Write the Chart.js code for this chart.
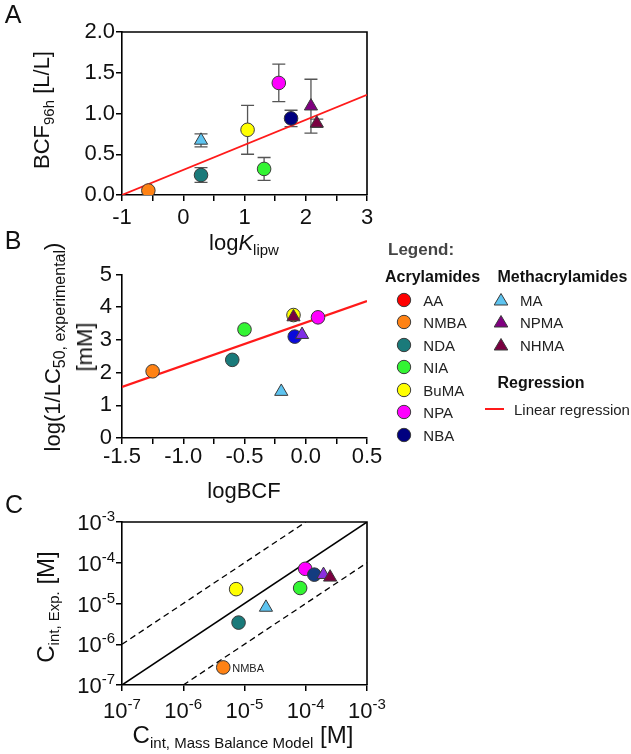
<!DOCTYPE html>
<html>
<head>
<meta charset="utf-8">
<script src="https://cdn.jsdelivr.net/npm/chart.js@4.4.1/dist/chart.umd.min.js"></script>
<style>
html,body{margin:0;padding:0;background:#fff;}
body{width:631px;height:754px;position:relative;overflow:hidden;font-family:'Liberation Sans',Arial,Helvetica,sans-serif;color:#111;}
canvas{position:absolute;left:0;}
.t{position:absolute;white-space:nowrap;line-height:normal;transform:translate(-50%,-50%);}
.r{transform:translate(-50%,-50%) rotate(-90deg);}
.sub{font-size:15px;position:relative;top:5px;}
.lg{position:absolute;white-space:nowrap;line-height:normal;transform:translateY(-50%);}
svg.mk{position:absolute;overflow:visible;}
</style>
</head>
<body>
<canvas id="cA" width="400" height="240" style="top:0px"></canvas>
<canvas id="cB" width="400" height="220" style="top:250px"></canvas>
<canvas id="cC" width="400" height="254" style="top:500px"></canvas>

<div class="t" style="left:13px;top:14px;font-size:25px">A</div>
<div class="t" style="left:13px;top:240px;font-size:25px">B</div>
<div class="t" style="left:14px;top:504px;font-size:25px">C</div>

<div class="t r" style="left:42px;top:110px;font-size:22px">BCF<span class="sub">96h</span> [L/L]</div>
<div class="t" style="left:244px;top:243px;font-size:22px">log<i>K</i><span class="sub">lipw</span></div>

<div class="t r" style="left:53px;top:347px;font-size:22px">log(1/LC<span class="sub" style="font-size:16px">50, experimental</span>)</div>
<div class="t r" style="left:85px;top:347px;font-size:22px">[mM]</div>
<div class="t" style="left:244px;top:491px;font-size:22px">logBCF</div>

<div class="t r" style="left:46px;top:607px;font-size:24px">C<span class="sub">int, Exp.</span> [M]</div>
<div class="t" style="left:243px;top:735px;font-size:24px">C<span class="sub">int, Mass Balance Model</span> [M]</div>

<div id="legend"></div>

<script>
// ---------------- DATA ----------------
// Panel A: BCF (96 h) vs log K_lipw
const compoundsA = ['NMBA', 'NDA', 'MA', 'BuMA', 'NIA', 'NPA', 'NBA', 'NPMA', 'NHMA'];
const logKlipw   = [-0.57, 0.29, 0.29, 1.05, 1.32, 1.56, 1.76, 2.085, 2.18];
const bcf96h     = [0.055, 0.245, 0.67, 0.80, 0.32, 1.375, 0.94, 1.09, 0.88];
const bcf96hErr  = [0, 0.09, 0.08, 0.30, 0.14, 0.23, 0.10, 0.33, 0.05];
const regA_x = [-1, 3];
const regA_y = [0.0, 1.23];

// Panel B: log(1/LC50) vs logBCF
const compoundsB = ['NMBA', 'NDA', 'NIA', 'MA', 'BuMA', 'NHMA', 'NBA', 'NPMA', 'NPA'];
const logBCF     = [-1.25, -0.60, -0.50, -0.20, -0.10, -0.10, -0.09, -0.03, 0.10];
const logInvLC50 = [2.04, 2.39, 3.32, 1.42, 3.76, 3.70, 3.10, 3.16, 3.69];
const regB_x = [-1.5, 0.5];
const regB_y = [1.56, 4.19];

// Panel C: experimental vs mass-balance internal concentrations
const compoundsC = ['NMBA', 'BuMA', 'NDA', 'MA', 'NIA', 'NPA', 'NBA', 'NPMA', 'NHMA'];
const cintModel  = [4.5e-6, 7.3e-6, 8.0e-6, 2.24e-5, 8.1e-5, 9.8e-5, 1.38e-4, 1.95e-4, 2.5e-4];
const cintExp    = [2.7e-7, 2.25e-5, 3.4e-6, 8.0e-6, 2.4e-5, 7.1e-5, 5.1e-5, 5.1e-5, 4.4e-5];
const unity_x = [1e-7, 1e-3];
const unity_y = [1e-7, 1e-3];
const tenfoldUp_x = [1e-7, 1e-4];
const tenfoldUp_y = [1e-6, 1e-3];
const tenfoldDown_x = [1e-6, 1e-3];
const tenfoldDown_y = [1e-7, 1e-4];
const decadeTicks = [1e-7, 1e-6, 1e-5, 1e-4, 1e-3];
const decadeExps  = ['-7', '-6', '-5', '-4', '-3'];

// Legend entries
const legendAcrylamides = ['AA', 'NMBA', 'NDA', 'NIA', 'BuMA', 'NPA', 'NBA'];
const legendMethacrylamides = ['MA', 'NPMA', 'NHMA'];

// ---------------- STYLE ----------------
const methacryl = new Set(legendMethacrylamides);
const colorsBase = { AA:'#ff0000', NMBA:'#ff8214', NDA:'#1a7a7a', NIA:'#33f533', BuMA:'#ffff00',
  NPA:'#ff00ff', NBA:'#000080', MA:'#5ec4f0', NPMA:'#800080', NHMA:'#7a0040' };
const colorsB = Object.assign({}, colorsBase, { NBA:'#0a0adc', NPMA:'#7f2fe6' });
const colorsC = Object.assign({}, colorsBase, { NBA:'#143c80', NPMA:'#8c2ee0' });

const F = "'Liberation Sans', Arial, Helvetica, sans-serif";
const TICK = 22;
Chart.defaults.font.family = F;
Chart.defaults.color = '#111';
Chart.defaults.animation = false;

const tickGrid = { display:true, drawOnChartArea:false, drawTicks:true, tickLength:6, color:'#000', lineWidth:1.5 };
const axisBorder = { display:true, color:'#000', width:1.6 };

function pointDatasets(names, xs, ys, colors) {
  return names.map((n, i) => ({
    label: n,
    data: [{ x: xs[i], y: ys[i] }],
    backgroundColor: colors[n],
    borderColor: '#3a3a3a',
    borderWidth: 1,
    pointStyle: methacryl.has(n) ? 'triangle' : 'circle',
    pointRadius: methacryl.has(n) ? 7.6 : 6.8,
    pointHoverRadius: methacryl.has(n) ? 7.6 : 6.8,
    order: names.length - i
  }));
}
function lineDataset(xs, ys, color, width, dash) {
  return { label: '', data: xs.map((x, i) => ({ x, y: ys[i] })), showLine: true,
    borderColor: color, borderWidth: width, borderDash: dash || [], pointRadius: 0,
    pointHoverRadius: 0, fill: false, order: 100 };
}
const framePlugin = { id: 'frame', beforeDatasetsDraw(chart) {
  const a = chart.chartArea, ctx = chart.ctx;
  ctx.save(); ctx.strokeStyle = '#000'; ctx.lineWidth = 1.6;
  ctx.beginPath(); ctx.moveTo(a.left, a.top); ctx.lineTo(a.right, a.top); ctx.lineTo(a.right, a.bottom); ctx.stroke();
  ctx.restore();
} };
const errPlugin = { id: 'errbars', beforeDatasetsDraw(chart) {
  const ctx = chart.ctx, x = chart.scales.x, y = chart.scales.y;
  ctx.save(); ctx.strokeStyle = '#555'; ctx.lineWidth = 1.3;
  logKlipw.forEach((v, i) => {
    const e = bcf96hErr[i]; if (!e) return;
    const px = x.getPixelForValue(v), p1 = y.getPixelForValue(bcf96h[i] + e), p2 = y.getPixelForValue(bcf96h[i] - e);
    ctx.beginPath();
    ctx.moveTo(px, p1); ctx.lineTo(px, p2);
    ctx.moveTo(px - 6.5, p1); ctx.lineTo(px + 6.5, p1);
    ctx.moveTo(px - 6.5, p2); ctx.lineTo(px + 6.5, p2);
    ctx.stroke();
  });
  ctx.restore();
} };
const baseOpts = { responsive: false, events: [], plugins: { legend: { display: false }, tooltip: { enabled: false } } };

// ---------------- CHART A ----------------
new Chart(document.getElementById('cA'), {
  type: 'scatter',
  data: { datasets: [lineDataset(regA_x, regA_y, '#ff1a1a', 1.7), ...pointDatasets(compoundsA, logKlipw, bcf96h, colorsBase)] },
  options: Object.assign({}, baseOpts, {
    layout: { padding: { top: 32, right: 33, left: 0, bottom: 0 } },
    scales: {
      x: { type: 'linear', min: -1, max: 3,
        ticks: { stepSize: 0.5, autoSkip: false, maxRotation: 0, padding: 4, font: { size: TICK }, color: '#111',
          callback: v => Number.isInteger(v) ? String(v) : '' },
        grid: tickGrid, border: axisBorder, afterFit: s => { s.height = 45; } },
      y: { type: 'linear', min: 0, max: 2,
        ticks: { stepSize: 0.5, padding: 1, font: { size: TICK }, color: '#111', callback: v => v.toFixed(1) },
        grid: tickGrid, border: axisBorder, afterFit: s => { s.width = 122; } }
    }
  }),
  plugins: [framePlugin, errPlugin]
});

// ---------------- CHART B ----------------
new Chart(document.getElementById('cB'), {
  type: 'scatter',
  data: { datasets: [lineDataset(regB_x, regB_y, '#ff1a1a', 2.3), ...pointDatasets(compoundsB, logBCF, logInvLC50, colorsB)] },
  options: Object.assign({}, baseOpts, {
    layout: { padding: { top: 24.5, right: 33, left: 0, bottom: 0 } },
    scales: {
      x: { type: 'linear', min: -1.5, max: 0.5,
        ticks: { stepSize: 0.25, autoSkip: false, maxRotation: 0, padding: 0, font: { size: TICK }, color: '#111',
          callback: v => Math.abs(v * 2 - Math.round(v * 2)) < 1e-9 ? v.toFixed(1) : '' },
        grid: tickGrid, border: axisBorder, afterFit: s => { s.height = 32; } },
      y: { type: 'linear', min: 0, max: 5,
        ticks: { stepSize: 1, padding: 4, font: { size: TICK }, color: '#111' },
        grid: tickGrid, border: axisBorder, afterFit: s => { s.width = 122; } }
    }
  })
});

// ---------------- CHART C ----------------
const cTickLabels = { id: 'cTicks', afterDraw(chart) {
  const ctx = chart.ctx, x = chart.scales.x, y = chart.scales.y, a = chart.chartArea;
  ctx.save(); ctx.fillStyle = '#111'; ctx.textBaseline = 'alphabetic'; ctx.textAlign = 'left';
  decadeTicks.forEach((v, i) => {
    const sup = decadeExps[i];
    ctx.font = TICK + 'px ' + F; const w1 = ctx.measureText('10').width;
    ctx.font = '15px ' + F; const w2 = ctx.measureText(sup).width;
    const px = x.getPixelForValue(v), bx = a.bottom + 33, sx = px - (w1 + w2) / 2;
    ctx.font = TICK + 'px ' + F; ctx.fillText('10', sx, bx);
    ctx.font = '15px ' + F; ctx.fillText(sup, sx + w1, bx - 9);
    const py = y.getPixelForValue(v), right = a.left - 7, by = py + 8;
    ctx.font = TICK + 'px ' + F; ctx.fillText('10', right - w2 - w1, by);
    ctx.font = '15px ' + F; ctx.fillText(sup, right - w2, by - 9);
  });
  // annotation of the NMBA point
  const k = compoundsC.indexOf('NMBA');
  ctx.font = '11px ' + F; ctx.fillStyle = '#222'; ctx.textBaseline = 'middle';
  ctx.fillText('NMBA', x.getPixelForValue(cintModel[k]) + 9, y.getPixelForValue(cintExp[k]) + 1.5);
  ctx.restore();
} };
new Chart(document.getElementById('cC'), {
  type: 'scatter',
  data: { datasets: [
    lineDataset(unity_x, unity_y, '#000', 1.5),
    lineDataset(tenfoldUp_x, tenfoldUp_y, '#000', 1.3, [6, 4]),
    lineDataset(tenfoldDown_x, tenfoldDown_y, '#000', 1.3, [6, 4]),
    ...pointDatasets(compoundsC, cintModel, cintExp, colorsC)] },
  options: Object.assign({}, baseOpts, {
    layout: { padding: { top: 22, right: 33, left: 0, bottom: 0 } },
    scales: {
      x: { type: 'logarithmic', min: 1e-7, max: 1e-3,
        afterBuildTicks: s => { s.ticks = decadeTicks.map(v => ({ value: v })); },
        ticks: { autoSkip: false, maxRotation: 0, callback: () => '' },
        grid: tickGrid, border: axisBorder, afterFit: s => { s.height = 69; } },
      y: { type: 'logarithmic', min: 1e-7, max: 1e-3,
        afterBuildTicks: s => { s.ticks = decadeTicks.map(v => ({ value: v })); },
        ticks: { callback: () => '' },
        grid: tickGrid, border: axisBorder, afterFit: s => { s.width = 122; } }
    }
  }),
  plugins: [framePlugin, cTickLabels]
});

// ---------------- LEGEND (HTML) ----------------
const L = document.getElementById('legend');
function txt(s, x, y, size, bold, color) {
  const d = document.createElement('div'); d.className = 'lg'; d.textContent = s;
  d.style.left = x + 'px'; d.style.top = y + 'px'; d.style.fontSize = size + 'px';
  if (bold) d.style.fontWeight = 'bold'; if (color) d.style.color = color;
  L.appendChild(d);
}
function marker(name, cx, cy) {
  const ns = 'http://www.w3.org/2000/svg';
  const s = document.createElementNS(ns, 'svg'); s.setAttribute('class', 'mk');
  s.setAttribute('width', 16); s.setAttribute('height', 16);
  s.style.left = (cx - 8) + 'px'; s.style.top = (cy - 8) + 'px';
  let e;
  if (methacryl.has(name)) {
    e = document.createElementNS(ns, 'polygon'); e.setAttribute('points', '8,1.5 14.8,13 1.2,13');
  } else {
    e = document.createElementNS(ns, 'circle'); e.setAttribute('cx', 8); e.setAttribute('cy', 8); e.setAttribute('r', 6.7);
  }
  e.setAttribute('fill', colorsBase[name]); e.setAttribute('stroke', '#3a3a3a'); e.setAttribute('stroke-width', 1);
  s.appendChild(e); L.appendChild(s);
}
txt('Legend:', 388, 250, 17, true, '#444');
txt('Acrylamides', 385, 277, 16, true, '#111');
txt('Methacrylamides', 497.5, 277, 16, true, '#111');
legendAcrylamides.forEach((n, i) => { const y = 300 + i * 22.45; marker(n, 404.3, y); txt(n, 423.3, y, 15, false, '#222'); });
legendMethacrylamides.forEach((n, i) => { const y = 300 + i * 22.3; marker(n, 501, y); txt(n, 520, y, 15, false, '#222'); });
txt('Regression', 497.5, 382.5, 16, true, '#111');
const rl = document.createElement('div');
rl.style.cssText = 'position:absolute;left:485px;top:408px;width:18.5px;height:1.6px;background:#ff1a1a;';
L.appendChild(rl);
txt('Linear regression', 514, 409, 15, false, '#222');
</script>
</body>
</html>
